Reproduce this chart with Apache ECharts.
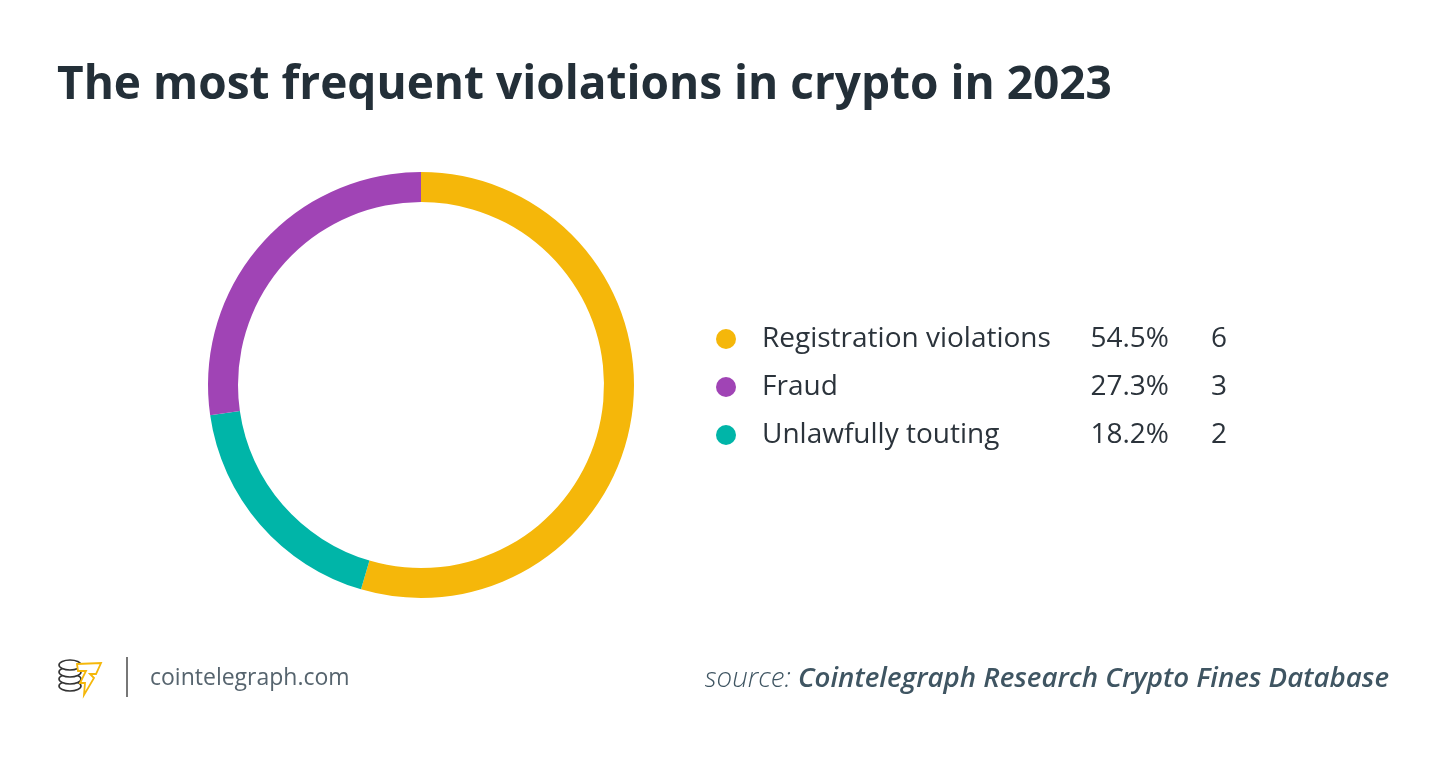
<!DOCTYPE html>
<html>
<head>
<meta charset="utf-8">
<script src="https://cdn.jsdelivr.net/npm/echarts@6/dist/echarts.min.js"></script>
<style>
  html, body { margin: 0; padding: 0; background: #fff; }
  #chart { width: 1450px; height: 757px; }
</style>
</head>
<body>
<div id="chart"></div>
<script>
// categories in legend order
const categories = ['Registration violations', 'Fraud', 'Unlawfully touting']
const counts = [6, 3, 2]
const percentLabels = ['54.5%', '27.3%', '18.2%']
const colors = ['#F5B70A', '#A044B5', '#00B5A8']
// order of the slices round the ring (clockwise from the top)
const ringOrder = ['Registration violations', 'Unlawfully touting', 'Fraud']

const chart = echarts.init(document.getElementById('chart'))

const pieData = ringOrder.map(name => {
  const i = categories.indexOf(name)
  return { name: name, value: counts[i], itemStyle: { color: colors[i] } }
})

const option = {
  backgroundColor: '#fff',
  animation: false,
  title: {
    text: 'The most frequent violations in crypto in 2023',
    left: 52,
    top: 58,
    textStyle: {
      fontFamily: 'Open Sans',
      fontWeight: 'bold',
      fontSize: 46,
      color: '#232f38'
    }
  },
  legend: {
    orient: 'vertical',
    left: 711,
    top: 320,
    icon: 'circle',
    itemWidth: 20,
    itemHeight: 20,
    itemGap: 20,
    selectedMode: false,
    data: categories,
    formatter: function (name) {
      const i = categories.indexOf(name)
      return '{name|' + name + '}{pct|' + percentLabels[i] + '}{cnt|' + counts[i] + '}'
    },
    textStyle: {
      padding: [0, 0, 0, 21],
      rich: {
        name: { width: 322, fontFamily: 'Open Sans', fontSize: 28, color: '#2b333b', lineHeight: 30 },
        pct: { width: 85, align: 'right', fontFamily: 'Open Sans', fontSize: 28, color: '#2b333b', lineHeight: 30 },
        cnt: { width: 58, align: 'right', fontFamily: 'Open Sans', fontSize: 28, color: '#2b333b', lineHeight: 30 }
      }
    }
  },
  series: [{
    type: 'pie',
    center: [421, 385],
    radius: [183, 213],
    startAngle: 90,
    clockwise: true,
    silent: true,
    label: { show: false },
    labelLine: { show: false },
    data: pieData
  }],
  graphic: [
    // footer logo: coin stack
    { type: 'ellipse', shape: { cx: 70, cy: 686, rx: 11, ry: 5 }, style: { fill: '#fff', stroke: '#333', lineWidth: 1.6 } },
    { type: 'ellipse', shape: { cx: 70, cy: 679, rx: 11, ry: 5 }, style: { fill: '#fff', stroke: '#333', lineWidth: 1.6 } },
    { type: 'ellipse', shape: { cx: 70, cy: 672, rx: 11, ry: 5 }, style: { fill: '#fff', stroke: '#333', lineWidth: 1.6 } },
    { type: 'ellipse', shape: { cx: 70, cy: 665, rx: 11, ry: 5 }, style: { fill: '#fff', stroke: '#333', lineWidth: 1.6 } },
    {
      type: 'polygon',
      shape: { points: [[77, 664], [101, 663], [96, 674], [90, 674], [94, 678], [84, 695], [85, 683], [80, 683], [86, 671], [78, 671]] },
      style: { fill: '#fff', stroke: '#F5B70A', lineWidth: 1.8 }
    },
    { type: 'line', shape: { x1: 127, y1: 657, x2: 127, y2: 697 }, style: { stroke: '#777', lineWidth: 2 } },
    {
      type: 'text',
      left: 150,
      top: 667,
      style: { text: 'cointelegraph.com', font: '23px "Open Sans"', fill: '#56646e' }
    },
    {
      type: 'text',
      right: 61,
      top: 665,
      style: {
        text: '{a|source: }{b|Cointelegraph Research Crypto Fines Database}',
        rich: {
          a: { fontFamily: 'Open Sans', fontStyle: 'italic', fontWeight: 300, fontSize: 27.7, fill: '#3f5562', color: '#3f5562' },
          b: { fontFamily: 'Open Sans', fontStyle: 'italic', fontWeight: 600, fontSize: 27.7, fill: '#3f5562', color: '#3f5562' }
        }
      }
    }
  ]
}

chart.setOption(option)
</script>
</body>
</html>
